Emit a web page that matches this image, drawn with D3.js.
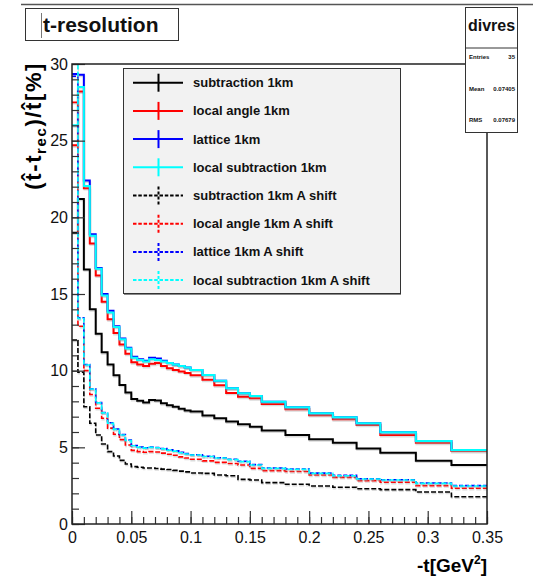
<!DOCTYPE html>
<html>
<head>
<meta charset="utf-8">
<script src="https://cdn.jsdelivr.net/npm/d3@7"></script>
<style>
    body { margin: 0; background: #fff; }
    svg { display: block; font-family: "Liberation Sans", Arial, sans-serif; }
</style>
</head>
<body>
<svg id="chart" width="533" height="577"></svg>
<script>
// bin edges of the histograms (-t in GeV^2)
const binEdges = [0, 0.005, 0.01, 0.015, 0.02, 0.025, 0.03, 0.035, 0.04, 0.045, 0.05,
    0.055, 0.06, 0.065, 0.07, 0.075, 0.08, 0.085, 0.09, 0.095, 0.1,
    0.11, 0.12, 0.13, 0.14, 0.15, 0.16, 0.18, 0.2, 0.22, 0.24, 0.26, 0.29, 0.32, 0.35];

// resolution in % per bin
const subtraction = [19.0, 21.2, 16.6, 14.0, 12.4, 11.2, 10.4, 9.7, 9.07, 8.57, 8.15,
    8.04, 7.93, 8.09, 8.05, 7.87, 7.74, 7.65, 7.52, 7.4, 7.33,
    7.07, 6.9, 6.68, 6.5, 6.35, 6.09, 5.8, 5.52, 5.3, 4.93, 4.65, 4.13, 3.85];
const localAngle = [24.7, 28.2, 21.9, 18.3, 16.2, 14.5, 13.35, 12.45, 11.7, 11.1, 10.55,
    10.4, 10.3, 10.45, 10.5, 10.3, 10.15, 10.05, 9.95, 9.85, 9.7,
    9.4, 9.05, 8.55, 8.3, 8.2, 7.83, 7.48, 7.1, 6.83, 6.46, 5.8, 5.3, 4.76];
const lattice = [29.35, 29.3, 22.4, 18.9, 16.7, 15.0, 13.9, 12.9, 12.1, 11.5, 10.9,
    10.75, 10.65, 10.85, 10.8, 10.65, 10.5, 10.4, 10.3, 10.2, 10.05,
    9.72, 9.35, 8.85, 8.52, 8.35, 7.98, 7.61, 7.22, 6.96, 6.57, 5.98, 5.41, 4.83];
const localSubtraction = [26.0, 28.5, 22.05, 18.8, 16.65, 14.9, 13.8, 12.85, 12.05, 11.45, 10.85,
    10.7, 10.6, 10.75, 10.7, 10.6, 10.5, 10.4, 10.3, 10.2, 10.05,
    9.72, 9.35, 8.85, 8.52, 8.35, 7.98, 7.61, 7.22, 6.96, 6.57, 5.98, 5.41, 4.83];
const subtractionShift = [12.0, 9.9, 7.65, 6.57, 5.8, 5.22, 4.72, 4.43, 4.15, 3.91, 3.74,
    3.7, 3.65, 3.65, 3.62, 3.58, 3.55, 3.5, 3.45, 3.4, 3.33,
    3.3, 3.2, 3.15, 2.91, 2.87, 2.7, 2.59, 2.48, 2.4, 2.3, 2.24, 2.09, 1.78];
const localAngleShift = [27.5, 12.9, 10.0, 8.45, 7.55, 6.9, 6.25, 5.85, 5.5, 5.15, 4.8,
    4.72, 4.68, 4.72, 4.7, 4.62, 4.55, 4.48, 4.38, 4.3, 4.22,
    4.12, 4.02, 3.95, 3.85, 3.63, 3.48, 3.42, 3.2, 3.04, 2.83, 2.72, 2.5, 2.33];
const latticeShift = [29.2, 13.45, 10.4, 8.82, 7.92, 7.27, 6.6, 6.2, 5.83, 5.48, 5.12,
    5.02, 4.97, 5.02, 4.99, 4.92, 4.84, 4.77, 4.67, 4.59, 4.52,
    4.42, 4.32, 4.22, 4.09, 3.87, 3.65, 3.59, 3.32, 3.17, 2.95, 2.89, 2.67, 2.5];
const localSubtractionShift = [30.5, 13.4, 10.37, 8.8, 7.9, 7.25, 6.57, 6.17, 5.8, 5.45, 5.1,
    5.0, 4.95, 5.0, 4.97, 4.9, 4.82, 4.75, 4.65, 4.57, 4.5,
    4.4, 4.3, 4.2, 4.07, 3.85, 3.63, 3.57, 3.3, 3.15, 2.93, 2.87, 2.65, 2.48];

const legendLabels = ['subtraction 1km', 'local angle 1km', 'lattice 1km', 'local subtraction 1km',
    'subtraction 1km A shift', 'local angle 1km A shift', 'lattice 1km A shift', 'local subtraction 1km A shift'];

const xTicks = [0, 0.05, 0.1, 0.15, 0.2, 0.25, 0.3, 0.35];
const yTicks = [0, 5, 10, 15, 20, 25, 30];

const statsName = 'divres';
const statsRows = [['Entries', '35'], ['Mean', '0.07405'], ['RMS', '0.07679']];

const series = [
    { values: subtraction, color: '#000000', dash: null },
    { values: localAngle, color: '#ff0000', dash: null },
    { values: lattice, color: '#0000ff', dash: null },
    { values: localSubtraction, color: '#00ffff', dash: null },
    { values: subtractionShift, color: '#000000', dash: '5,2' },
    { values: localAngleShift, color: '#ff0000', dash: '5,2' },
    { values: latticeShift, color: '#0000ff', dash: '4,2' },
    { values: localSubtractionShift, color: '#00ffff', dash: '5,2' }
];

const svg = d3.select('#chart');
const frame = { left: 72, right: 487, top: 64, bottom: 524 };

const x = d3.scaleLinear().domain([0, 0.35]).range([frame.left, frame.right]);
const y = d3.scaleLinear().domain([0, 30]).range([frame.bottom, frame.top]);

// pad border line at the top
svg.append('line')
    .attr('x1', 21).attr('x2', 533).attr('y1', 4.5).attr('y2', 4.5)
    .attr('stroke', '#555').attr('stroke-width', 1.5);

svg.append('clipPath').attr('id', 'frame-clip')
    .append('rect')
    .attr('x', frame.left).attr('y', frame.top)
    .attr('width', frame.right - frame.left).attr('height', frame.bottom - frame.top);

// histograms
const stepPoints = (values) => values.flatMap((v, i) => [[binEdges[i], v], [binEdges[i + 1], v]]);
const line = d3.line().x((d) => x(d[0])).y((d) => y(d[1]));

const plot = svg.append('g').attr('clip-path', 'url(#frame-clip)');

series.forEach((s) => {
    plot.append('path')
        .attr('d', line(stepPoints(s.values)))
        .attr('transform', 'translate(0.5, 1.5)')
        .attr('fill', 'none')
        .attr('stroke', '#999')
        .attr('stroke-opacity', 0.35)
        .attr('stroke-width', s.dash ? 1.4 : 1.8)
        .attr('stroke-dasharray', s.dash);
    plot.append('path')
        .attr('d', line(stepPoints(s.values)))
        .attr('fill', 'none')
        .attr('stroke', s.color)
        .attr('stroke-width', s.dash ? 1.6 : 2)
        .attr('stroke-dasharray', s.dash);
});

// axes with ROOT style inward ticks
svg.append('g')
    .attr('transform', `translate(${frame.left}, 0)`)
    .call(d3.axisLeft(y).tickValues(yTicks).tickSizeInner(-13).tickSizeOuter(0).tickPadding(4));
svg.append('g')
    .attr('transform', `translate(${frame.left}, 0)`)
    .call(d3.axisLeft(y).tickValues(d3.range(0, 31)).tickSizeInner(-7).tickSizeOuter(0).tickFormat(''));

svg.append('g')
    .attr('transform', `translate(0, ${frame.bottom})`)
    .call(d3.axisBottom(x).tickValues(xTicks).tickSizeInner(-13).tickSizeOuter(0).tickPadding(8)
        .tickFormat((d) => String(+d.toFixed(2))));
svg.append('g')
    .attr('transform', `translate(0, ${frame.bottom})`)
    .call(d3.axisBottom(x).tickValues(d3.range(0, 36).map((i) => i / 100)).tickSizeInner(-7).tickSizeOuter(0).tickFormat(''));

svg.selectAll('.domain').remove();
svg.selectAll('.tick line').attr('stroke', '#333').attr('stroke-width', 1.2);
svg.selectAll('.tick text').attr('font-size', 16).attr('fill', '#111')
    .attr('font-family', '"Liberation Sans", Arial, sans-serif');

// frame
svg.append('rect')
    .attr('x', frame.left).attr('y', frame.top)
    .attr('width', frame.right - frame.left).attr('height', frame.bottom - frame.top)
    .attr('fill', 'none').attr('stroke', '#222').attr('stroke-width', 1.5);

// axis titles
svg.append('text')
    .attr('x', frame.right).attr('y', 572)
    .attr('text-anchor', 'end')
    .attr('font-size', 19).attr('font-weight', 'bold')
    .call((t) => {
        t.append('tspan').text('-t[GeV');
        t.append('tspan').attr('font-size', 12).attr('dy', -8).text('2');
        t.append('tspan').attr('dy', 8).text(']');
    });

svg.append('text')
    .attr('transform', 'translate(41, 62) rotate(-90)')
    .attr('text-anchor', 'end')
    .attr('font-size', 22).attr('font-weight', 'bold')
    .attr('letter-spacing', 1.6)
    .call((t) => {
        t.append('tspan').text('(t\u0302-t');
        t.append('tspan').attr('font-size', 15).attr('dy', 5).text('rec');
        t.append('tspan').attr('dy', -5).text(')/t\u0302[%]');
    });

// title box
svg.append('rect')
    .attr('x', 25.5).attr('y', 8.5).attr('width', 153).attr('height', 32)
    .attr('fill', '#fff').attr('stroke', '#333').attr('stroke-width', 1);
svg.append('line')
    .attr('x1', 41.5).attr('x2', 41.5).attr('y1', 13).attr('y2', 38)
    .attr('stroke', '#777').attr('stroke-width', 1);
svg.append('text')
    .attr('x', 43).attr('y', 32)
    .attr('font-size', 21).attr('font-weight', 'bold').attr('fill', '#111')
    .text('t-resolution');

// stats box
const stats = svg.append('g');
stats.append('rect')
    .attr('x', 465.5).attr('y', 7.5).attr('width', 52).attr('height', 125)
    .attr('fill', '#fff').attr('stroke', '#333').attr('stroke-width', 1);
stats.append('line')
    .attr('x1', 465.5).attr('x2', 517.5).attr('y1', 48).attr('y2', 48)
    .attr('stroke', '#333').attr('stroke-width', 1);
stats.append('text')
    .attr('x', 491.5).attr('y', 31)
    .attr('text-anchor', 'middle')
    .attr('font-size', 16).attr('font-weight', 'bold').attr('fill', '#111')
    .text(statsName);
statsRows.forEach(([label, value], i) => {
    const ty = 59 + i * 31.5;
    stats.append('text')
        .attr('x', 469).attr('y', ty)
        .attr('font-size', 6).attr('font-weight', 'bold').attr('fill', '#111')
        .text(label);
    stats.append('text')
        .attr('x', 515).attr('y', ty)
        .attr('text-anchor', 'end')
        .attr('font-size', 6).attr('font-weight', 'bold').attr('fill', '#111')
        .text(value);
});

// legend
const legend = svg.append('g');
legend.append('rect')
    .attr('x', 124).attr('y', 70).attr('width', 277).attr('height', 225)
    .attr('fill', '#888');
legend.append('rect')
    .attr('x', 123.5).attr('y', 68.5).attr('width', 277).attr('height', 225)
    .attr('fill', '#f2f2f2').attr('stroke', '#333').attr('stroke-width', 1);

series.forEach((s, i) => {
    const ly = 82.7 + i * 28.2;
    legend.append('line')
        .attr('x1', 133).attr('x2', 183).attr('y1', ly).attr('y2', ly)
        .attr('stroke', s.color).attr('stroke-width', 2)
        .attr('stroke-dasharray', s.dash ? '3.5,1.8' : null);
    legend.append('line')
        .attr('x1', 158.5).attr('x2', 158.5).attr('y1', ly - 9).attr('y2', ly + 9)
        .attr('stroke', s.color).attr('stroke-width', 2)
        .attr('stroke-dasharray', s.dash ? '3,2' : null);
    legend.append('text')
        .attr('x', 193).attr('y', ly + 4.5)
        .attr('font-size', 13).attr('font-weight', 'bold').attr('fill', '#111')
        .text(legendLabels[i]);
});
</script>
</body>
</html>
